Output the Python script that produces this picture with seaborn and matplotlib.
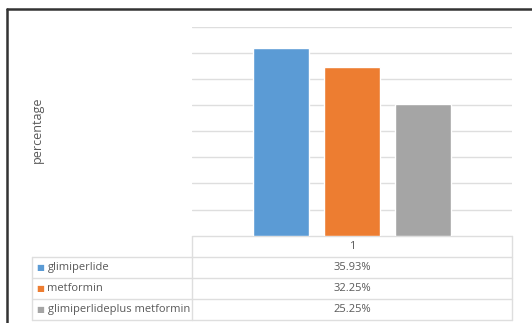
import matplotlib
matplotlib.use("Agg")
import matplotlib.pyplot as plt
import seaborn as sns
import pandas as pd

# -----------------------------------
# DATA
# -----------------------------------

category = "1"
drugs = ["glimiperlide", "metformin", "glimiperlideplus metformin"]
percent = [35.93, 32.25, 25.25]
colors = ["#5B9BD5", "#ED7D31", "#A5A5A5"]

df = pd.DataFrame({"group": [category] * len(drugs), "drug": drugs, "pct": percent})

# -----------------------------------
# FIGURE (pixel layout helpers)
# -----------------------------------

W, H = 532, 323
sns.set_theme(style="white")
plt.rcParams["font.family"] = ["Open Sans", "DejaVu Sans"]
text_col = "#595959"
line_col = "#DEDEDE"

fig = plt.figure(figsize=(W / 100, H / 100), dpi=100)

# background overlay in pixel coordinates
bg = fig.add_axes([0, 0, 1, 1])
bg.set_xlim(0, W)
bg.set_ylim(H, 0)
bg.axis("off")

# plot area
px_left, px_right = 192, 512
px_top, px_base = 26.7, 235.7
ax = fig.add_axes([px_left / W, (H - px_base) / H,
                   (px_right - px_left) / W, (px_base - px_top) / H])

sns.barplot(data=df, x="group", y="pct", hue="drug", palette=colors,
            saturation=1, width=0.665, gap=0.22, legend=False, ax=ax, zorder=3)
ax.set_ylim(0, 40)
ax.set_xlim(-0.5, 0.5)
ax.set_yticks(range(0, 41, 5))
ax.yaxis.grid(True, color=line_col, linewidth=1.0)
ax.set_axisbelow(True)
ax.tick_params(left=False, bottom=False, labelleft=False, labelbottom=False)
ax.set_xlabel("")
ax.set_ylabel("")
for s in ax.spines.values():
    s.set_visible(False)

# outer frame (top + left)
bg.plot([7, 7], [9, H], color="#333333", linewidth=1.8)
bg.plot([7, W], [9, 9], color="#333333", linewidth=1.8)

bg.text(37, 130, "percentage", rotation=90, ha="center", va="center",
        fontsize=9, color=text_col)

# -----------------------------------
# DATA TABLE
# -----------------------------------

tab_left = 31.7
row_h = 21.0
rows_y = [px_base + row_h * (i + 1) for i in range(len(drugs) + 1)]

bg.plot([px_left, px_right], [px_base, px_base], color=line_col, lw=1)
for y in rows_y:
    bg.plot([tab_left, px_right], [y, y], color=line_col, lw=1)
bg.plot([px_left, px_left], [px_base, rows_y[-1]], color=line_col, lw=1)
bg.plot([px_right, px_right], [px_base, rows_y[-1]], color=line_col, lw=1)
bg.plot([tab_left, tab_left], [rows_y[0], rows_y[-1]], color=line_col, lw=1)

mid_x = (px_left + px_right) / 2
bg.text(mid_x, px_base + row_h / 2, category, ha="center", va="center",
        fontsize=8, color=text_col)
for i, (name, val, c) in enumerate(zip(drugs, percent, colors)):
    yc = rows_y[i] + row_h / 2
    bg.text(40, yc, "\u25A0", ha="center", va="center", fontsize=6,
            color=c, family="DejaVu Sans")
    bg.text(47.5, yc, name, ha="left", va="center", fontsize=8, color=text_col)
    bg.text(mid_x, yc, f"{val:.2f}%", ha="center", va="center",
            fontsize=8, color=text_col)

fig.savefig("out.png", dpi=100)
